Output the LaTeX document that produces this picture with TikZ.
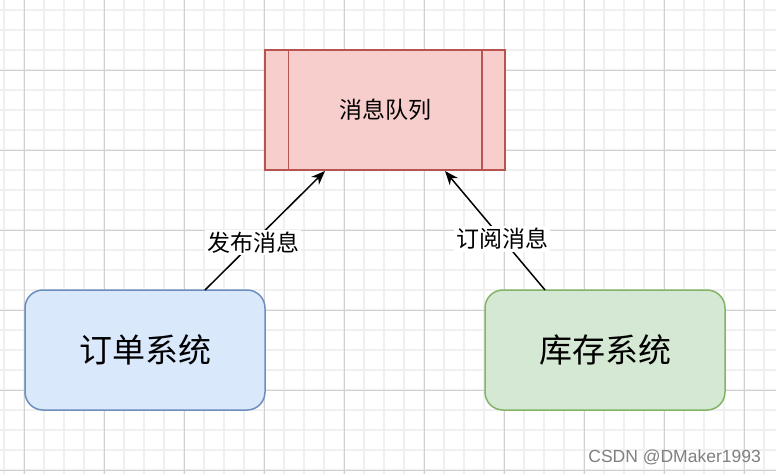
\documentclass[tikz,border=0pt]{standalone}
\usepackage{fontspec}
\newfontfamily\cjk{Noto Sans CJK SC}
\newfontfamily\wm{Liberation Sans}
\usetikzlibrary{arrows.meta}
\definecolor{minorgrid}{HTML}{F0F0F0}
\definecolor{majorgrid}{HTML}{D0D0D0}
\definecolor{qfill}{HTML}{F8CECC}
\definecolor{qdraw}{HTML}{B85450}
\definecolor{bfill}{HTML}{DAE8FC}
\definecolor{bdraw}{HTML}{6C8EBF}
\definecolor{gfill}{HTML}{D5E8D4}
\definecolor{gdraw}{HTML}{82B366}
\tikzset{
  sysbox/.style={rounded corners=18pt, minimum width=240pt, minimum height=120pt, line width=1.5pt, inner sep=0pt, font=\cjk\fontsize{33}{36}\selectfont},
  queuebox/.style={draw=qdraw, fill=qfill, minimum width=240pt, minimum height=120pt, line width=1.5pt, inner sep=0pt, font=\cjk\fontsize{23}{26}\selectfont},
  conn/.style={line width=1.5pt, -{Stealth[length=14pt,width=11pt]}},
  lbl/.style={fill=white, inner sep=2pt, font=\cjk\fontsize{23}{26}\selectfont}
}
\begin{document}
\begin{tikzpicture}[x=1pt,y=-1pt]
\useasboundingbox (0,0) rectangle (776,474);
\fill[white] (0,0) rectangle (776,474);
\foreach \x in {4,24,...,776} \draw[minorgrid, line width=2pt] (\x,0) -- (\x,474);
\foreach \y in {10,30,...,474} \draw[minorgrid, line width=2pt] (0,\y) -- (776,\y);
\foreach \x in {24,104,...,776} \draw[majorgrid, line width=1pt] (\x,0) -- (\x,474);
\foreach \y in {70,150,...,474} \draw[majorgrid, line width=1pt] (0,\y) -- (776,\y);

\node[queuebox] (mq) at (385,110) {消息队列};
\draw[qdraw, line width=1.5pt] ([xshift=24pt]mq.north west) -- ([xshift=24pt]mq.south west);
\draw[qdraw, line width=1.5pt] ([xshift=-24pt]mq.north east) -- ([xshift=-24pt]mq.south east);

\node[sysbox, draw=bdraw, fill=bfill] (order) at (145,350) {订单系统};
\node[sysbox, draw=gdraw, fill=gfill] (stock) at (605,350) {库存系统};

\coordinate (a1) at (205,290);
\coordinate (a2) at (325,171);
\coordinate (b1) at (545,290);
\coordinate (b2) at (445,171);
\draw[conn] (a1) -- node[lbl, pos=0.4] {发布消息} (a2);
\draw[conn] (b1) -- node[lbl, pos=0.43] {订阅消息} (b2);

\node[font=\wm\fontsize{17.5}{20}\selectfont, text=black!50, anchor=east, inner sep=0pt] (wmk) at (761,457) {CSDN @DMaker1993};
\end{tikzpicture}
\end{document}
